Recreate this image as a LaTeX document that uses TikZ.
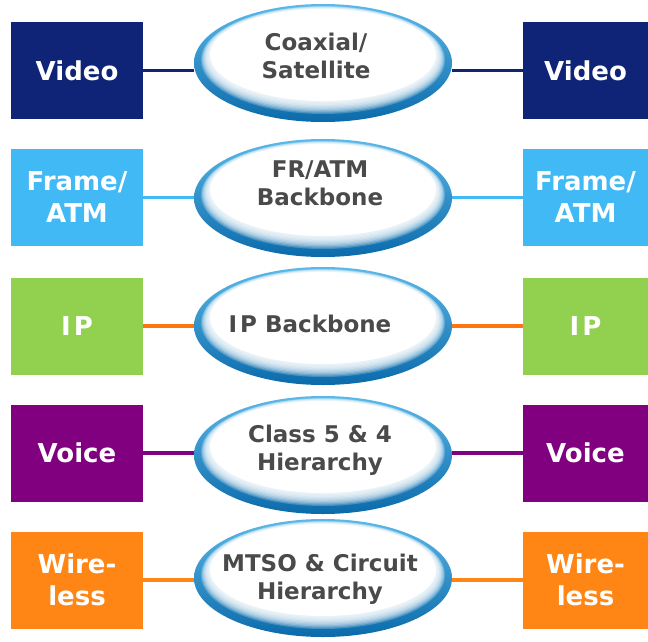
\documentclass[tikz,border=0pt]{standalone}
\usepackage{fontspec}
\setmainfont{DejaVu Sans}
\usetikzlibrary{shapes.geometric}

\definecolor{videoblue}{HTML}{0F2377}
\definecolor{frameblue}{HTML}{41B9F5}
\definecolor{ipgreen}{HTML}{92D050}
\definecolor{iporange}{HTML}{FF7410}
\definecolor{voicepurple}{HTML}{800080}
\definecolor{wirelessorange}{HTML}{FF8514}
\definecolor{hubtext}{HTML}{4A4A4A}
\definecolor{rimdark}{HTML}{0B6AAA}
\definecolor{rimlight}{HTML}{5BB8E8}
\definecolor{rimmid}{HTML}{1E8ACC}

\tikzset{
  svcbox/.style={fill=#1, text=white, minimum height=97pt, inner sep=0pt,
    align=center, font=\fontsize{26}{32}\selectfont\bfseries},
  hub/.style={ellipse, minimum width=258pt, minimum height=118pt, inner sep=0pt,
    path picture={
      \shade[top color=rimlight, middle color=rimmid, bottom color=rimdark]
        (path picture bounding box.south west) rectangle (path picture bounding box.north east);
      \foreach \k in {0,...,10}{
        \pgfmathsetmacro{\t}{\k/10}
        \pgfmathsetmacro{\rx}{122-9*\t}
        \pgfmathsetmacro{\ta}{57-3*\t}
        \pgfmathsetmacro{\tb}{51-13*\t}
        \pgfmathsetmacro{\ry}{(\ta+\tb)/2}
        \pgfmathsetmacro{\dy}{(\ta-\tb)/2}
        \fill[white, fill opacity=0.22] ([yshift=\dy pt]path picture bounding box.center)
          ellipse [x radius=\rx pt, y radius=\ry pt];
      }
      \fill[white] ([yshift=8pt]path picture bounding box.center)
        ellipse [x radius=113pt, y radius=46pt];
    }},
  hubtext/.style={align=center, text=hubtext, inner sep=0pt,
    font=\fontsize{23}{28}\selectfont\bfseries},
  link/.style={line width=3.5pt, draw=#1}
}

\begin{document}
\begin{tikzpicture}[x=1pt, y=-1pt]
  \useasboundingbox (0,0) rectangle (648,642);
  % one row per service: boxes on both sides, network in the middle
  \foreach \y/\hy/\tx/\ty/\name/\boxcol/\linecol/\svc/\core in {
      70.5/63/316/56/vid/videoblue/videoblue/Video/{Coaxial/\\Satellite},
      197.5/198/320/183/frm/frameblue/frameblue/{Frame/\\ATM}/{FR/ATM\\Backbone},
      326/326/310/324/ip/ipgreen/iporange/{I\kern3pt P}/{I\kern3pt P Backbone},
      453/455/320/450/voc/voicepurple/voicepurple/Voice/{Class 5 \& 4\\Hierarchy},
      580/578/320/579/wls/wirelessorange/wirelessorange/{Wire-\\less}/{MTSO \& Circuit\\Hierarchy}}{
    \node[svcbox=\boxcol, minimum width=132pt] (L\name) at (77,\y) {\svc};
    \node[svcbox=\boxcol, minimum width=125pt] (R\name) at (585.5,\y) {\svc};
    \node[hub] (hub\name) at (323,\hy) {};
    \node[hubtext] (txt\name) at (\tx,\ty) {\core};
    % connectors
    \draw[link=\linecol] (L\name.east) -- (L\name.east -| hub\name.west);
    \draw[link=\linecol] (R\name.west) -- (R\name.west -| hub\name.east);
  }
\end{tikzpicture}
\end{document}
